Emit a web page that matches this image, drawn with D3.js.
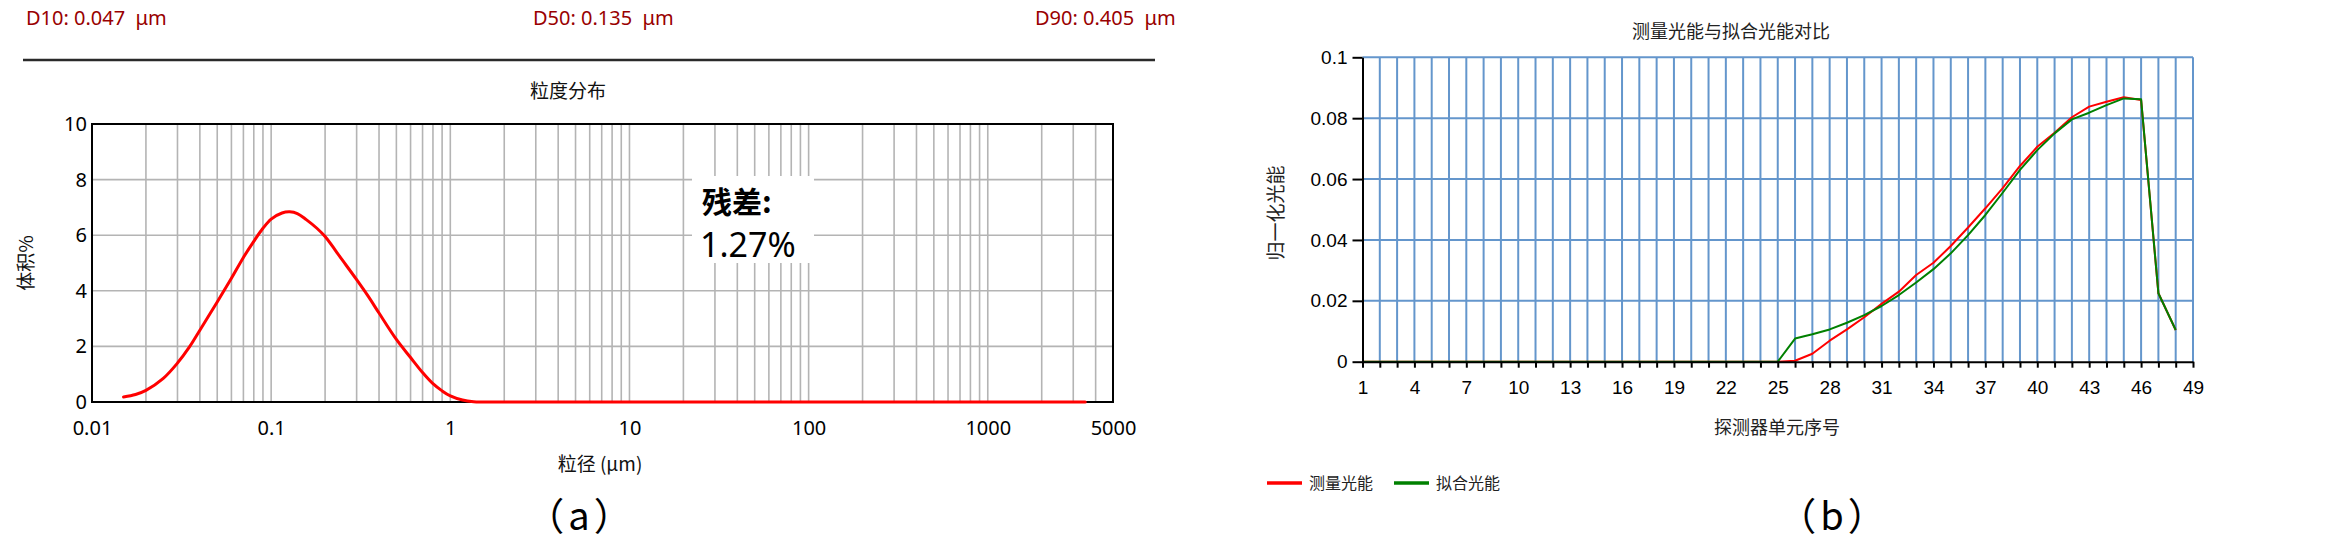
<!DOCTYPE html>
<html>
<head>
<meta charset="utf-8">
<script src="https://cdn.jsdelivr.net/npm/d3@7"></script>
<style>
  html, body { margin: 0; padding: 0; background: #fff; }
  svg { display: block; }
  text { white-space: pre; }
</style>
</head>
<body>
<svg id="chart" width="2333" height="544"></svg>
<script>
// ---------------- DATA ----------------
// Panel (a): particle size distribution
const sizeUm = [0.015, 0.0175, 0.02, 0.025, 0.03, 0.035, 0.04, 0.05, 0.06, 0.07, 0.08, 0.09, 0.1, 0.115, 0.127, 0.14, 0.157, 0.18, 0.2, 0.25, 0.3, 0.35, 0.4, 0.5, 0.6, 0.7, 0.8, 0.9, 1.0, 1.17, 1.35, 1.5, 2, 5, 10, 50, 100, 500, 1000, 2000, 3500];
const volumePct = [0.18, 0.27, 0.42, 0.85, 1.40, 1.98, 2.58, 3.60, 4.45, 5.20, 5.78, 6.25, 6.58, 6.80, 6.84, 6.78, 6.56, 6.25, 5.95, 5.10, 4.40, 3.78, 3.20, 2.25, 1.60, 1.06, 0.66, 0.40, 0.22, 0.07, 0.01, 0, 0, 0, 0, 0, 0, 0, 0, 0, 0];
const sizeTicks = [0.01, 0.1, 1, 10, 100, 1000, 5000];
const sizeTickLabels = ["0.01", "0.1", "1", "10", "100", "1000", "5000"];
const volumeTicks = [0, 2, 4, 6, 8, 10];
const statLabels = ["D10: 0.047  μm", "D50: 0.135  μm", "D90: 0.405  μm"];
const residualLabel = ["残差:", "1.27%"];

// Panel (b): measured vs fitted light energy
const detectorIndex = d3.range(1, 49);
const measuredEnergy = [0,0,0,0,0,0,0,0,0,0,0,0,0,0,0,0,0,0,0,0,0,0,0,0,0,
  0.0003, 0.0026, 0.0069, 0.0106, 0.0146, 0.0190, 0.0230, 0.0285, 0.0325, 0.0380, 0.0441, 0.0504, 0.0570, 0.0643, 0.0706, 0.0752, 0.0803, 0.0838, 0.0854, 0.0869, 0.0860, 0.0225, 0.0104];
const fittedEnergy = [0,0,0,0,0,0,0,0,0,0,0,0,0,0,0,0,0,0,0,0,0,0,0,0,0,
  0.0076, 0.0090, 0.0106, 0.0128, 0.0153, 0.0183, 0.0219, 0.0260, 0.0304, 0.0356, 0.0416, 0.0482, 0.0555, 0.0630, 0.0695, 0.0750, 0.0796, 0.0818, 0.0843, 0.0865, 0.0862, 0.0225, 0.0104];
const detectorTicks = d3.range(1, 50, 3);
const energyTicks = [0, 0.02, 0.04, 0.06, 0.08, 0.1];
const seriesNames = ["测量光能", "拟合光能"];
const seriesColors = ["#ff0000", "#008000"];

// ---------------- DRAW ----------------
const svg = d3.select("#chart");
svg.append("rect").attr("width", 2333).attr("height", 544).attr("fill", "#fff");

const fontA = "'Noto Sans', 'Noto Sans CJK SC', sans-serif";
const fontCJK = "'Noto Sans CJK SC', 'Noto Sans', sans-serif";
const fontB = "'Liberation Sans', 'Noto Sans CJK SC', sans-serif";

// ----- Panel (a) -----
const statX = [26, 533, 1035];
svg.selectAll("text.stat").data(statLabels).join("text")
  .attr("class", "stat")
  .attr("x", (d, i) => statX[i]).attr("y", 25)
  .attr("font-family", fontA).attr("font-size", 20)
  .attr("fill", "#990000").text(d => d);

svg.append("line").attr("x1", 23).attr("x2", 1155).attr("y1", 60).attr("y2", 60)
  .attr("stroke", "#2a2a2a").attr("stroke-width", 2.5);

const xA = d3.scaleLog().domain([0.01, 5000]).range([92, 1113]);
const yA = d3.scaleLinear().domain([0, 10]).range([402, 124]);

const gA = svg.append("g");
// vertical grid
const vGrid = [];
[0.01, 0.1, 1, 10, 100, 1000].forEach(dec => {
  for (let m = 1; m <= 9; m++) {
    const v = dec * m;
    if (v > 0.01 && v < 5000) vGrid.push(v);
  }
});
gA.selectAll("line.vg").data(vGrid).join("line")
  .attr("x1", d => xA(d)).attr("x2", d => xA(d))
  .attr("y1", yA(0)).attr("y2", yA(10))
  .attr("stroke", "#b4b4b4").attr("stroke-width", 1.6);
gA.selectAll("line.hg").data([2, 4, 6, 8]).join("line")
  .attr("x1", xA(0.01)).attr("x2", xA(5000))
  .attr("y1", d => yA(d)).attr("y2", d => yA(d))
  .attr("stroke", "#b4b4b4").attr("stroke-width", 1.6);

// residual box
gA.append("rect").attr("x", 692).attr("y", 176).attr("width", 122).attr("height", 87).attr("fill", "#fff");
gA.append("text").attr("x", 702).attr("y", 213)
  .attr("font-family", fontCJK).attr("font-size", 30).attr("font-weight", "bold")
  .attr("fill", "#000").text(residualLabel[0]);
gA.append("text").attr("x", 700).attr("y", 257)
  .attr("font-family", fontA).attr("font-size", 34)
  .attr("fill", "#000").text(residualLabel[1]);

// frame
gA.append("rect").attr("x", xA(0.01)).attr("y", yA(10))
  .attr("width", xA(5000) - xA(0.01)).attr("height", yA(0) - yA(10))
  .attr("fill", "none").attr("stroke", "#000").attr("stroke-width", 2);

// curve
const lineA = d3.line().x((d, i) => xA(sizeUm[i])).y(d => yA(d)).curve(d3.curveCatmullRom.alpha(0.5));
gA.append("path").datum(volumePct).attr("d", lineA)
  .attr("fill", "none").attr("stroke", "#ff0000").attr("stroke-width", 3)
  .attr("stroke-linejoin", "round").attr("stroke-linecap", "round");

// axes
const axA_y = d3.axisLeft(yA).tickValues(volumeTicks).tickSize(0).tickPadding(5).tickFormat(d3.format("d"));
gA.append("g").attr("transform", `translate(${xA(0.01)},0)`).call(axA_y)
  .call(g => g.select(".domain").remove())
  .selectAll("text").attr("font-family", fontA).attr("font-size", 20).attr("fill", "#000");
const axA_x = d3.axisBottom(xA).tickValues(sizeTicks).tickSize(0).tickPadding(19)
  .tickFormat((d, i) => sizeTickLabels[i]);
gA.append("g").attr("transform", `translate(0,${yA(0)})`).call(axA_x)
  .call(g => g.select(".domain").remove())
  .selectAll("text").attr("font-family", fontA).attr("font-size", 20).attr("fill", "#000");

gA.append("text").attr("x", 568).attr("y", 98).attr("text-anchor", "middle")
  .attr("font-family", fontCJK).attr("font-size", 19).attr("fill", "#111").text("粒度分布");
gA.append("text").attr("x", 600).attr("y", 471).attr("text-anchor", "middle")
  .attr("font-family", fontCJK).attr("font-size", 19).attr("fill", "#111").text("粒径 (μm)");
gA.append("text").attr("transform", "translate(33,263) rotate(-90)").attr("text-anchor", "middle")
  .attr("font-family", fontCJK).attr("font-size", 19).attr("fill", "#111").text("体积%");
gA.append("text").attr("x", 581).attr("y", 530).attr("text-anchor", "middle")
  .attr("font-family", fontCJK).attr("font-size", 38).attr("letter-spacing", 4).attr("fill", "#000").text("（a）");

// ----- Panel (b) -----
const xB = d3.scaleLinear().domain([1, 49]).range([1362.5, 2193]);
const yB = d3.scaleLinear().domain([0, 0.1]).range([361.7, 57.3]);
const gB = svg.append("g");
const gridBlue = "#6496cc";

gB.selectAll("line.vg").data(d3.range(2, 50)).join("line")
  .attr("x1", d => xB(d)).attr("x2", d => xB(d))
  .attr("y1", yB(0)).attr("y2", yB(0.1))
  .attr("stroke", gridBlue).attr("stroke-width", 2);
gB.selectAll("line.hg").data([0.02, 0.04, 0.06, 0.08, 0.1]).join("line")
  .attr("x1", xB(1)).attr("x2", xB(49))
  .attr("y1", d => yB(d)).attr("y2", d => yB(d))
  .attr("stroke", gridBlue).attr("stroke-width", 2);

const lineB = d3.line().x((d, i) => xB(detectorIndex[i])).y(d => yB(d));
[measuredEnergy, fittedEnergy].forEach((s, k) => {
  gB.append("path").datum(s).attr("d", lineB)
    .attr("fill", "none").attr("stroke", seriesColors[k]).attr("stroke-width", 2)
    .attr("stroke-linejoin", "round");
});

const axB_y = d3.axisLeft(yB).tickValues(energyTicks).tickSize(10).tickSizeOuter(0).tickPadding(5)
  .tickFormat(d => d === 0 ? "0" : d3.format("~g")(d));
gB.append("g").attr("transform", `translate(${xB(1)},0)`).call(axB_y)
  .call(g => g.selectAll("path, line").attr("stroke", "#000").attr("stroke-width", 2))
  .selectAll("text").attr("font-family", fontB).attr("font-size", 19).attr("fill", "#000");
const axB_x = d3.axisBottom(xB).tickValues(d3.range(1, 50)).tickSize(6).tickSizeOuter(0).tickPadding(13)
  .tickFormat(d => detectorTicks.includes(d) ? String(d) : "");
gB.append("g").attr("transform", `translate(0,${yB(0)})`).call(axB_x)
  .call(g => g.selectAll("path, line").attr("stroke", "#000").attr("stroke-width", 2))
  .selectAll("text").attr("font-family", fontB).attr("font-size", 19).attr("fill", "#000");

gB.append("text").attr("x", 1731).attr("y", 38).attr("text-anchor", "middle")
  .attr("font-family", fontCJK).attr("font-size", 18).attr("fill", "#222").text("测量光能与拟合光能对比");
gB.append("text").attr("x", 1777).attr("y", 434).attr("text-anchor", "middle")
  .attr("font-family", fontCJK).attr("font-size", 18).attr("fill", "#222").text("探测器单元序号");
gB.append("text").attr("transform", "translate(1283,213) rotate(-90)").attr("text-anchor", "middle")
  .attr("font-family", fontCJK).attr("font-size", 19).attr("fill", "#222").text("归一化光能");

// legend
const legX = [1267, 1394];
seriesNames.forEach((n, k) => {
  gB.append("line").attr("x1", legX[k]).attr("x2", legX[k] + 35).attr("y1", 483).attr("y2", 483)
    .attr("stroke", seriesColors[k]).attr("stroke-width", 3.5);
  gB.append("text").attr("x", legX[k] + 42).attr("y", 489)
    .attr("font-family", fontCJK).attr("font-size", 16).attr("fill", "#222").text(n);
});

gB.append("text").attr("x", 1834).attr("y", 530).attr("text-anchor", "middle")
  .attr("font-family", fontCJK).attr("font-size", 38).attr("letter-spacing", 4).attr("fill", "#000").text("（b）");
</script>
</body>
</html>
